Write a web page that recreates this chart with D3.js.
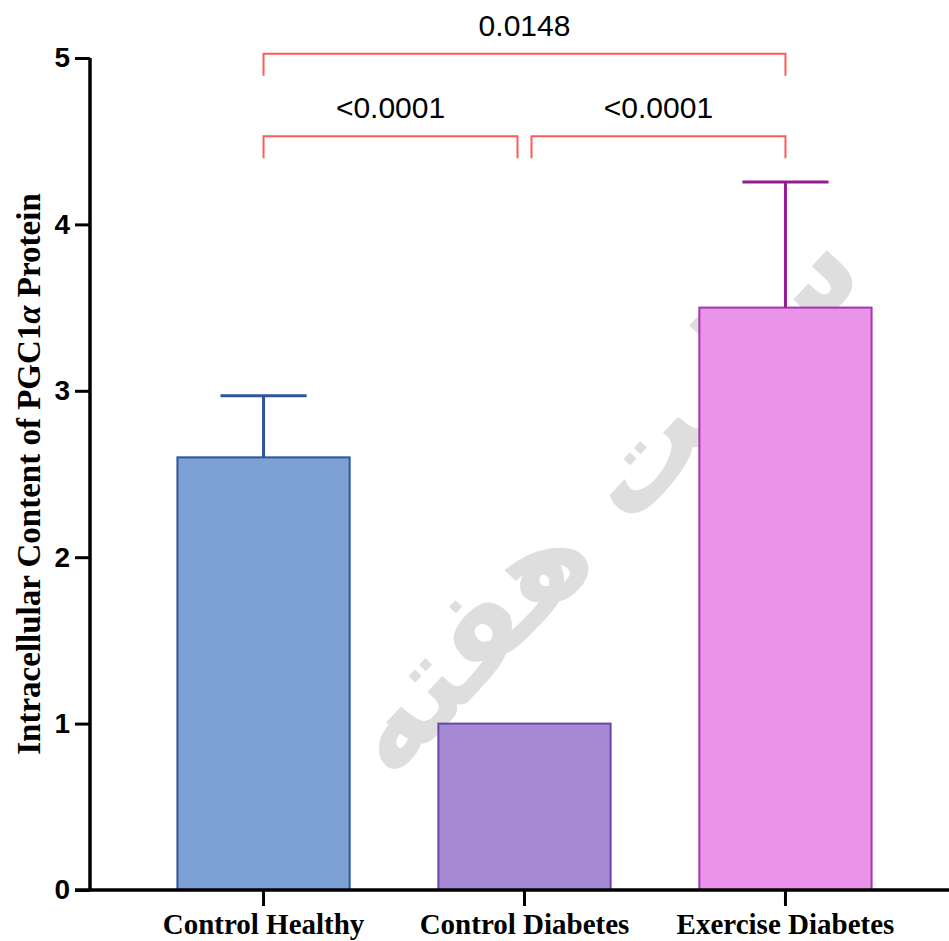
<!DOCTYPE html>
<html>
<head>
<meta charset="utf-8">
<script src="https://cdn.jsdelivr.net/npm/d3@7"></script>
<style>
  body { margin: 0; background: #fff; }
  svg { display: block; }
</style>
</head>
<body>
<script>
// data
const groups = ["Control Healthy", "Control Diabetes", "Exercise Diabetes"];
const means = [2.60, 1.00, 3.50];
const errUp = [2.97, null, 4.255];
const fills = ["#7da1d4", "#a58ad3", "#e994e8"];
const strokes = ["#2f5597", "#6a45ad", "#a535b0"];
const errColors = ["#2f5597", "#6a45ad", "#961a92"];
const yTicks = [0, 1, 2, 3, 4, 5];
// significance brackets: from group, to group, height (data units), label
const brFrom = [0, 0, 1];
const brTo = [2, 1, 2];
const brY = [5.025, 4.53, 4.53];
const brLabel = ["0.0148", "<0.0001", "<0.0001"];

const W = 949, H = 941;
const svg = d3.select("body").append("svg")
    .attr("width", W)
    .attr("height", H);

const y = d3.scaleLinear().domain([0, 5]).range([890, 58]);
const x = d3.scaleBand().domain(groups).range([90, 959])
    .paddingInner(0.34).paddingOuter(0.335);
const cx = g => x(g) + x.bandwidth() / 2;

// watermark behind everything
svg.append("text")
    .attr("transform", "translate(605,505) rotate(-47)")
    .attr("text-anchor", "middle")
    .attr("dominant-baseline", "middle")
    .style("font-family", "'DejaVu Sans', sans-serif")
    .style("font-size", "125px")
    .style("font-weight", "bold")
    .attr("fill", "#dedede")
    .text("سایت هفته");

// bars
svg.selectAll("rect.bar").data(groups).enter().append("rect")
    .attr("class", "bar")
    .attr("x", d => x(d))
    .attr("width", x.bandwidth())
    .attr("y", (d, i) => y(means[i]))
    .attr("height", (d, i) => y(0) - y(means[i]))
    .attr("fill", (d, i) => fills[i])
    .attr("stroke", (d, i) => strokes[i])
    .attr("stroke-width", 2);

// error bars (upper only)
const eb = groups.map((g, i) => ({ g, i })).filter(d => errUp[d.i] != null);
svg.selectAll("line.err").data(eb).enter().append("line")
    .attr("x1", d => cx(d.g)).attr("x2", d => cx(d.g))
    .attr("y1", d => y(means[d.i])).attr("y2", d => y(errUp[d.i]))
    .attr("stroke", d => errColors[d.i]).attr("stroke-width", 3);
svg.selectAll("line.cap").data(eb).enter().append("line")
    .attr("x1", d => cx(d.g) - x.bandwidth() / 4)
    .attr("x2", d => cx(d.g) + x.bandwidth() / 4)
    .attr("y1", d => y(errUp[d.i])).attr("y2", d => y(errUp[d.i]))
    .attr("stroke", d => errColors[d.i]).attr("stroke-width", 3);

// y axis
const yAxis = svg.append("g")
    .attr("transform", "translate(90,0)")
    .call(d3.axisLeft(y).tickValues(yTicks).tickSize(15).tickPadding(5).tickFormat(d3.format("d")));
yAxis.select(".domain").attr("stroke-width", 3.5).attr("d", "M0," + y(5) + "V" + y(0));
yAxis.selectAll(".tick line").attr("stroke-width", 3);
yAxis.selectAll(".tick text")
    .style("font-family", "'Liberation Sans', Arial, sans-serif")
    .style("font-size", "28px").style("font-weight", "bold").attr("fill", "#000");

// x axis
const xAxis = svg.append("g")
    .attr("transform", "translate(0," + y(0) + ")")
    .call(d3.axisBottom(x).tickSize(16).tickPadding(7));
xAxis.select(".domain").attr("stroke-width", 3.5).attr("d", "M75,0H949");
xAxis.selectAll(".tick line").attr("stroke-width", 3);
xAxis.selectAll(".tick text")
    .attr("dy", "0.71em")
    .style("font-family", "'Liberation Serif', 'Times New Roman', serif")
    .style("font-size", "29px").style("font-weight", "bold").attr("fill", "#000");

// y axis title
const yt = svg.append("text")
    .attr("transform", "translate(40," + (y(0) + y(5)) / 2 + ") rotate(-90)")
    .attr("text-anchor", "middle")
    .style("font-family", "'Liberation Serif', 'Times New Roman', serif")
    .style("font-size", "33px").style("font-weight", "bold");
yt.append("tspan").text("Intracellular Content of PGC1");
yt.append("tspan").style("font-style", "italic").text("α");
yt.append("tspan").text(" Protein");

// significance brackets
const gap = 7;
brY.forEach((v, k) => {
  const adj = brTo[k] - brFrom[k] === 1;
  const x1 = cx(groups[brFrom[k]]) + (adj && brFrom[k] > 0 ? gap : 0);
  const x2 = cx(groups[brTo[k]]) - (adj && brTo[k] < groups.length - 1 ? gap : 0);
  const yy = y(v);
  svg.append("path")
      .attr("d", `M${x1},${yy + 22}V${yy}H${x2}V${yy + 22}`)
      .attr("fill", "none").attr("stroke", "#ff5a5a").attr("stroke-width", 2);
  svg.append("text")
      .attr("x", (x1 + x2) / 2).attr("y", yy - 18)
      .attr("text-anchor", "middle")
      .style("font-family", "'Liberation Sans', Arial, sans-serif")
      .style("font-size", "30px")
      .text(brLabel[k]);
});
</script>
</body>
</html>
